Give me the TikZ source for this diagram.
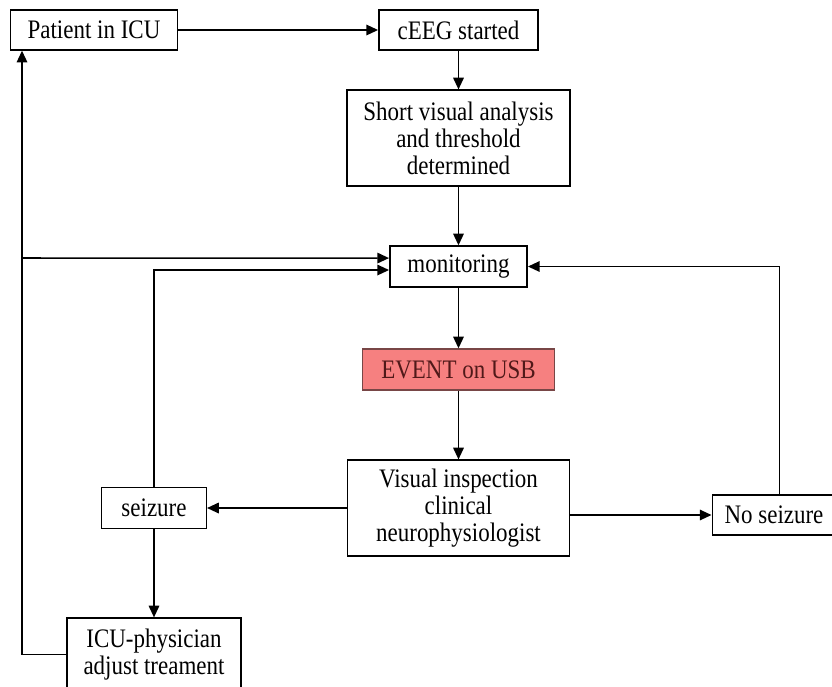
\documentclass[tikz,border=0pt]{standalone}
\usepackage{fontspec}
\setmainfont{Liberation Serif}[FakeStretch=0.86]
\usetikzlibrary{arrows.meta}
\definecolor{eventfill}{RGB}{246,128,128}
\definecolor{eventline}{RGB}{120,70,70}
\definecolor{eventtext}{RGB}{80,25,25}
\tikzset{
  box/.style={draw, line width=1.3pt, align=center, inner sep=0pt,
    font=\fontsize{22.8}{23}\selectfont},
  arr/.style={line width=1.3pt, -{Triangle[length=10pt,width=9pt]}},
  line/.style={line width=1.3pt}
}

\begin{document}
\begin{tikzpicture}[x=0.03cm, y=-0.03cm]
				\useasboundingbox (0, 0) rectangle (832, 686);
				
				\node[box, minimum width=168*0.85pt, minimum height=40*0.85pt] (patient) at (94, 30) {Patient in ICU};
				\node[box, minimum width=160*0.85pt, minimum height=40*0.85pt] (ceeg) at (458.5, 30) {cEEG started};
				\node[box, minimum width=224*0.85pt, minimum height=96*0.85pt] (short) at (458.5, 138) {Short visual analysis\\and threshold\\determined};
				\node[box, minimum width=138*0.85pt, minimum height=41*0.85pt] (monitor) at (458.5, 266.5) {monitoring};
				\node[box, draw=eventline, fill=eventfill, text=eventtext, minimum width=193*0.85pt, minimum height=41*0.85pt] (event) at (458.5, 369.5) {EVENT on USB};
				\node[box, minimum width=223*0.85pt, minimum height=96*0.85pt] (visual) at (458.5, 508) {Visual inspection\\clinical\\neurophysiologist};
				\node[box, minimum width=105*0.85pt, minimum height=41*0.85pt] (seizure) at (154, 508) {seizure};
				\node[box, minimum width=124*0.85pt, minimum height=40*0.85pt] (noseizure) at (774, 515) {No seizure};
				\node[box, minimum width=175*0.85pt, minimum height=73*0.85pt] (icu) at (154, 654.5) {ICU-physician\\adjust treament};
				
				\coordinate (lx) at (22, 0);
				
				\draw[arr] (patient.east) -- (ceeg.west);
				\draw[arr] (ceeg.south) -- (short.north);
				\draw[arr] (short.south) -- (monitor.north);
				\draw[arr] (monitor.south) -- (event.north);
				\draw[arr] (event.south) -- (visual.north);
				
				\draw[arr] (visual.west) -- (seizure.east);
				\draw[arr] (visual.east |- noseizure) -- (noseizure.west);
				\draw[arr] (seizure.south) -- (icu.north);
				
				\draw[arr] (icu.west) -| (lx |- patient.south);
				\draw[arr] (lx |- 0, 258) -- ([yshift=7.2pt]monitor.west);
				\draw[arr] (seizure.north) |- ([yshift=-3pt]monitor.west);
				\draw[arr] ([xshift=4.5pt]noseizure.north) |- (monitor.east);
			\end{tikzpicture}
\end{document}
